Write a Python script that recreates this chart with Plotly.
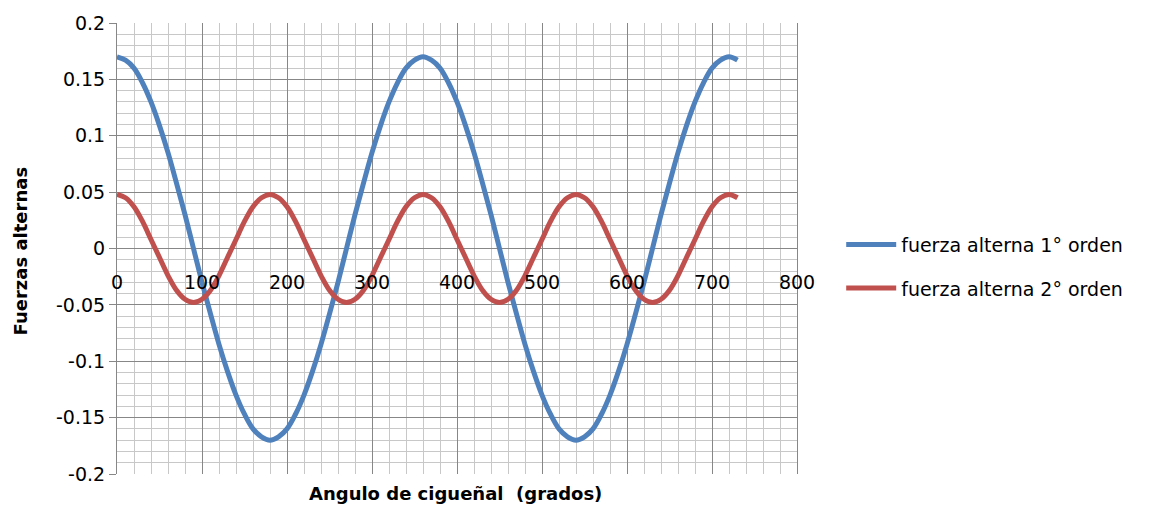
import numpy as np
import plotly.graph_objects as go

angles = list(range(0, 740, 10))

fuerza_1 = [
    0.170, 0.167, 0.160, 0.147, 0.130, 0.109, 0.085, 0.058, 0.030, 0.000,
    -0.030, -0.058, -0.085, -0.109, -0.130, -0.147, -0.160, -0.167, -0.170, -0.167,
    -0.160, -0.147, -0.130, -0.109, -0.085, -0.058, -0.030, 0.000, 0.030, 0.058,
    0.085, 0.109, 0.130, 0.147, 0.160, 0.167, 0.170, 0.167, 0.160, 0.147,
    0.130, 0.109, 0.085, 0.058, 0.030, 0.000, -0.030, -0.058, -0.085, -0.109,
    -0.130, -0.147, -0.160, -0.167, -0.170, -0.167, -0.160, -0.147, -0.130, -0.109,
    -0.085, -0.058, -0.030, 0.000, 0.030, 0.058, 0.085, 0.109, 0.130, 0.147,
    0.160, 0.167, 0.170, 0.167,
]

fuerza_2 = [
    0.048, 0.045, 0.037, 0.024, 0.008, -0.008, -0.024, -0.037, -0.045, -0.048,
    -0.045, -0.037, -0.024, -0.008, 0.008, 0.024, 0.037, 0.045, 0.048, 0.045,
    0.037, 0.024, 0.008, -0.008, -0.024, -0.037, -0.045, -0.048, -0.045, -0.037,
    -0.024, -0.008, 0.008, 0.024, 0.037, 0.045, 0.048, 0.045, 0.037, 0.024,
    0.008, -0.008, -0.024, -0.037, -0.045, -0.048, -0.045, -0.037, -0.024, -0.008,
    0.008, 0.024, 0.037, 0.045, 0.048, 0.045, 0.037, 0.024, 0.008, -0.008,
    -0.024, -0.037, -0.045, -0.048, -0.045, -0.037, -0.024, -0.008, 0.008, 0.024,
    0.037, 0.045, 0.048, 0.045,
]

x_tick_vals = [0, 100, 200, 300, 400, 500, 600, 700, 800]
x_tick_text = ["0", "100", "200", "300", "400", "500", "600", "700", "800"]
y_tick_vals = [0.2, 0.15, 0.1, 0.05, 0, -0.05, -0.1, -0.15, -0.2]
y_tick_text = ["0.2", "0.15", "0.1", "0.05", "0", "-0.05", "-0.1", "-0.15", "-0.2"]

series_names = ["fuerza alterna 1° orden", "fuerza alterna 2° orden"]
colors = ["#4F81BD", "#C0504D"]

FONT = "DejaVu Sans"
MAJOR = "#878787"
MINOR = "#c8c8c8"

fig = go.Figure()
for name, ys, col, grp in zip(series_names, [fuerza_1, fuerza_2], colors, ["a", "b"]):
    fig.add_trace(go.Scatter(
        x=angles, y=ys, mode="lines", name=name, legendgroup=grp,
        line=dict(color=col, width=5, shape="spline", smoothing=1.0),
    ))

x_minor = [float(v) for v in np.arange(0, 801, 20)]
y_minor = [round(float(v), 3) for v in np.arange(-0.2, 0.2001, 0.01)]

fig.update_layout(
    width=1152, height=507,
    margin=dict(l=117, r=355, t=18, b=33),
    paper_bgcolor="white", plot_bgcolor="white",
    font=dict(family=FONT, size=19, color="#000000"),
    showlegend=True,
    legend=dict(
        x=1.065, y=0.46, xanchor="left", yanchor="middle",
        font=dict(family=FONT, size=19, color="#000000"),
        tracegroupgap=16, itemwidth=50,
        bgcolor="rgba(0,0,0,0)",
    ),
    xaxis=dict(
        range=[0, 800], tickmode="array", tickvals=x_tick_vals, ticktext=x_tick_text,
        anchor="free", position=0.5, showline=False, zeroline=False,
        showgrid=True, gridcolor=MAJOR, gridwidth=1, ticks="",
        ticklabelstandoff=20,
        tickfont=dict(family=FONT, size=19, color="#000000"),
        minor=dict(tickmode="array", tickvals=x_minor, showgrid=True, gridcolor=MINOR, gridwidth=1, ticks=""),
    ),
    yaxis=dict(
        range=[-0.2, 0.2], tickmode="array", tickvals=y_tick_vals, ticktext=y_tick_text,
        showline=True, linecolor=MAJOR, linewidth=1, mirror=True, zeroline=False,
        showgrid=True, gridcolor=MAJOR, gridwidth=1,
        ticks="outside", ticklen=7, tickcolor=MAJOR,
        tickfont=dict(family=FONT, size=19, color="#000000"),
        minor=dict(tickmode="array", tickvals=y_minor, showgrid=True, gridcolor=MINOR, gridwidth=1, ticks=""),
    ),
    annotations=[
        dict(
            text="<b>Angulo de cigueñal  (grados)</b>", xref="paper", yref="paper",
            x=(455 - 117) / 680, y=-(494 - 474) / 456, xanchor="center", yanchor="middle",
            showarrow=False, font=dict(family=FONT, size=18, color="#000000"),
        ),
        dict(
            text="<b>Fuerzas alternas</b>", xref="paper", yref="paper",
            x=(20 - 117) / 680, y=(474 - 249) / 456, xanchor="center", yanchor="middle",
            textangle=-90, showarrow=False, font=dict(family=FONT, size=18, color="#000000"),
        ),
    ],
)

fig.write_html("out.html")
